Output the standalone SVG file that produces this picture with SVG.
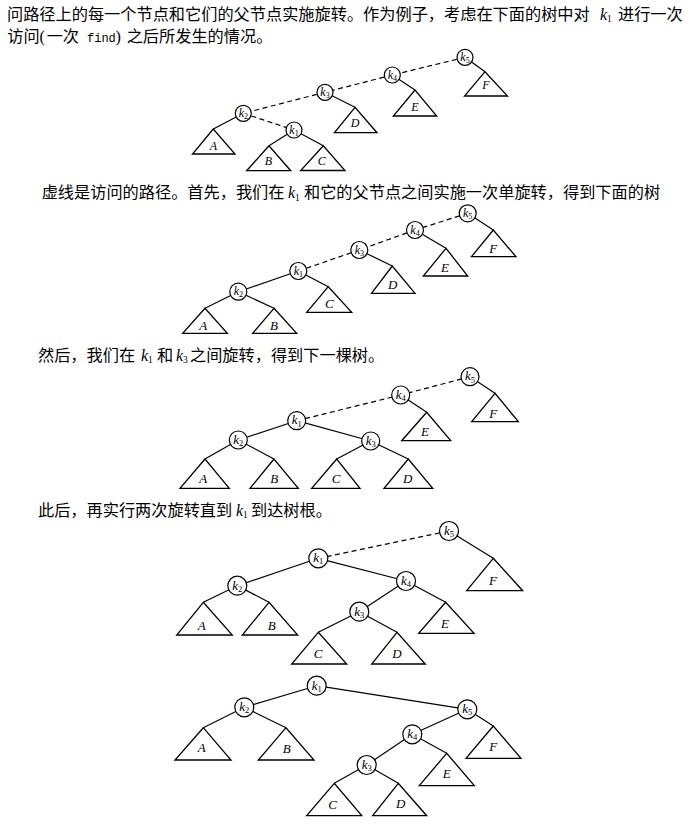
<svg xmlns="http://www.w3.org/2000/svg" width="699" height="826" viewBox="0 0 699 826">
<style>
.cn{font-family:"Liberation Serif","Noto Sans CJK SC",serif;font-size:16.2px;fill:#000}
.mo{font-family:"Liberation Mono",monospace;font-size:12px;fill:#000}
.kt{font-family:"Liberation Serif",serif;font-style:italic;font-size:16px;fill:#000}
.kt .s{font-size:9.5px;font-style:normal}
.e line{stroke:#000;stroke-width:1.2;fill:none}
.e .d{stroke-dasharray:5 3.5}
.n circle{fill:#fff;stroke:#000;stroke-width:1.2}
.n text{font-family:"Liberation Serif",serif;font-style:italic;font-size:13px;text-anchor:middle;fill:#000}
.n .s{font-size:8.5px;font-style:normal}
.sm text{font-size:12px}
.sm .s{font-size:8px}
.t polygon{fill:#fff;stroke:#000;stroke-width:1.3;stroke-linejoin:miter}
.t text{font-family:"Liberation Serif",serif;font-style:italic;font-size:13px;text-anchor:middle;fill:#000}
.ts text{font-size:12px}
</style>

<g id="text">
<text class="cn" x="7" y="19.5">问路径上的每一个节点和它们的父节点实施旋转。作为例子，考虑在下面的树中对</text>
<text class="kt" x="600" y="19.5">k<tspan class="s" dy="2.5">1</tspan></text>
<text class="cn" x="618" y="19.5">进行一次</text>
<text class="cn" x="7.3" y="41.5">访问</text>
<text class="cn" x="39.5" y="41.5">(</text>
<text class="cn" x="46.7" y="41.5">一次</text>
<text class="mo" x="87" y="41.5">find</text>
<text class="cn" x="115.5" y="41.5">)</text>
<text class="cn" x="126.7" y="41.5">之后所发生的情况。</text>

<text class="cn" x="41.7" y="198">虚线是访问的路径。首先，我们在</text>
<text class="kt" x="288" y="198">k<tspan class="s" dy="2.5">1</tspan></text>
<text class="cn" x="304" y="198">和它的父节点之间实施一次单旋转，得到下面的树</text>

<text class="cn" x="38" y="360.5">然后，我们在</text>
<text class="kt" x="141" y="360.5">k<tspan class="s" dy="2.5">1</tspan></text>
<text class="cn" x="157" y="360.5">和</text>
<text class="kt" x="176" y="360.5">k<tspan class="s" dy="2.5">3</tspan></text>
<text class="cn" x="190" y="360.5">之间旋转，得到下一棵树。</text>

<text class="cn" x="38" y="515.5">此后，再实行两次旋转直到</text>
<text class="kt" x="236" y="515.5">k<tspan class="s" dy="2.5">1</tspan></text>
<text class="cn" x="251" y="515.5">到达树根。</text>
</g>

<g id="connectors" class="e">
<!-- tree 1 -->
<line class="d" x1="465" y1="57.3" x2="392.3" y2="75"/>
<line class="d" x1="392.3" y1="75" x2="325" y2="92.3"/>
<line class="d" x1="325" y1="92.3" x2="243.3" y2="113.3"/>
<line class="d" x1="243.3" y1="113.3" x2="294" y2="130"/>
<line x1="465" y1="57.3" x2="485" y2="71.7"/>
<line x1="392.3" y1="75" x2="415" y2="90"/>
<line x1="325" y1="92.3" x2="355" y2="107.3"/>
<line x1="243.3" y1="113.3" x2="213.3" y2="129"/>
<line x1="294" y1="130" x2="269" y2="145.7"/>
<line x1="294" y1="130" x2="323.3" y2="145.7"/>
<!-- tree 2 -->
<line class="d" x1="467.7" y1="213.3" x2="415" y2="230"/>
<line class="d" x1="415" y1="230" x2="359.3" y2="250"/>
<line class="d" x1="359.3" y1="250" x2="298.3" y2="271"/>
<line x1="298.3" y1="271" x2="238.3" y2="291.7"/>
<line x1="238.3" y1="291.7" x2="205" y2="308.3"/>
<line x1="238.3" y1="291.7" x2="274" y2="308.3"/>
<line x1="298.3" y1="271" x2="328.3" y2="286.7"/>
<line x1="359.3" y1="250" x2="392.3" y2="266"/>
<line x1="415" y1="230" x2="446" y2="248.3"/>
<line x1="467.7" y1="213.3" x2="493.3" y2="230"/>
<!-- tree 3 -->
<line class="d" x1="470" y1="376.7" x2="400.7" y2="395"/>
<line class="d" x1="400.7" y1="395" x2="296.7" y2="420.7"/>
<line x1="296.7" y1="420.7" x2="238.3" y2="440"/>
<line x1="296.7" y1="420.7" x2="370.7" y2="441"/>
<line x1="238.3" y1="440" x2="205" y2="459"/>
<line x1="238.3" y1="440" x2="274" y2="459"/>
<line x1="370.7" y1="441" x2="336.7" y2="459"/>
<line x1="370.7" y1="441" x2="408.3" y2="459"/>
<line x1="400.7" y1="395" x2="426.7" y2="412.3"/>
<line x1="470" y1="376.7" x2="495" y2="393.3"/>
<!-- tree 4 -->
<line class="d" x1="318.3" y1="558.3" x2="449" y2="531"/>
<line x1="318.3" y1="558.3" x2="237.3" y2="585.7"/>
<line x1="318.3" y1="558.3" x2="406" y2="581"/>
<line x1="406" y1="581" x2="359.3" y2="611.7"/>
<line x1="406" y1="581" x2="445.7" y2="602.3"/>
<line x1="359.3" y1="611.7" x2="318.3" y2="632.3"/>
<line x1="359.3" y1="611.7" x2="397" y2="632.3"/>
<line x1="237.3" y1="585.7" x2="203.3" y2="602.3"/>
<line x1="237.3" y1="585.7" x2="269" y2="602.3"/>
<line x1="449" y1="531" x2="493.3" y2="558.3"/>
<!-- tree 5 -->
<line x1="316.7" y1="685.7" x2="244.3" y2="707.3"/>
<line x1="316.7" y1="685.7" x2="467.3" y2="709.3"/>
<line x1="467.3" y1="709.3" x2="412.3" y2="734.3"/>
<line x1="467.3" y1="709.3" x2="493.3" y2="726"/>
<line x1="412.3" y1="734.3" x2="366.7" y2="765"/>
<line x1="412.3" y1="734.3" x2="446.7" y2="753.3"/>
<line x1="366.7" y1="765" x2="334.3" y2="783.3"/>
<line x1="366.7" y1="765" x2="398.3" y2="783.3"/>
<line x1="244.3" y1="707.3" x2="203.3" y2="727.7"/>
<line x1="244.3" y1="707.3" x2="286" y2="727.7"/>
</g>

<!-- tree 1 nodes -->
<g id="t1-k5" class="n sm"><circle cx="465" cy="57.3" r="8"/><text x="465" y="60.8">k<tspan class="s" dy="2">5</tspan></text></g>
<g id="t1-k4" class="n sm"><circle cx="392.3" cy="75" r="8"/><text x="392.3" y="78.5">k<tspan class="s" dy="2">4</tspan></text></g>
<g id="t1-k3" class="n sm"><circle cx="325" cy="92.3" r="8"/><text x="325" y="95.8">k<tspan class="s" dy="2">3</tspan></text></g>
<g id="t1-k2" class="n sm"><circle cx="243.3" cy="113.3" r="8"/><text x="243.3" y="116.8">k<tspan class="s" dy="2">2</tspan></text></g>
<g id="t1-k1" class="n sm"><circle cx="294" cy="130" r="8"/><text x="294" y="133.5">k<tspan class="s" dy="2">1</tspan></text></g>
<g id="t1-F" class="t ts"><polygon points="485,71.7 464.5,96 507.5,96"/><text x="486" y="89">F</text></g>
<g id="t1-E" class="t ts"><polygon points="415,90 393.3,116 436.7,116"/><text x="415" y="110.7">E</text></g>
<g id="t1-D" class="t ts"><polygon points="355,107.3 334.5,132.7 377,132.7"/><text x="355" y="126.7">D</text></g>
<g id="t1-A" class="t ts"><polygon points="213.3,129 192.5,154 235,154"/><text x="213.3" y="150">A</text></g>
<g id="t1-B" class="t ts"><polygon points="269,145.7 246.7,170.7 290.7,170.7"/><text x="268.3" y="164.7">B</text></g>
<g id="t1-C" class="t ts"><polygon points="323.3,145.7 300.7,170.5 345,170.5"/><text x="321.7" y="164.7">C</text></g>

<!-- tree 2 nodes -->
<g id="t2-k5" class="n sm"><circle cx="467.7" cy="213.3" r="8.5"/><text x="467.7" y="216.8">k<tspan class="s" dy="2">5</tspan></text></g>
<g id="t2-k4" class="n sm"><circle cx="415" cy="230" r="8.5"/><text x="415" y="233.5">k<tspan class="s" dy="2">4</tspan></text></g>
<g id="t2-k3" class="n sm"><circle cx="359.3" cy="250" r="8.5"/><text x="359.3" y="253.5">k<tspan class="s" dy="2">3</tspan></text></g>
<g id="t2-k1" class="n sm"><circle cx="298.3" cy="271" r="8.5"/><text x="298.3" y="274.5">k<tspan class="s" dy="2">1</tspan></text></g>
<g id="t2-k2" class="n sm"><circle cx="238.3" cy="291.7" r="8.5"/><text x="238.3" y="295.2">k<tspan class="s" dy="2">2</tspan></text></g>
<g id="t2-F" class="t"><polygon points="493.3,230 471.5,256.7 516,256.7"/><text x="493.3" y="252.8">F</text></g>
<g id="t2-E" class="t"><polygon points="446,248.3 423.3,276 467.7,276"/><text x="445" y="272.2">E</text></g>
<g id="t2-D" class="t"><polygon points="392.3,266 371.5,293.3 415,293.3"/><text x="392.7" y="288.8">D</text></g>
<g id="t2-C" class="t"><polygon points="328.3,286.7 306.7,312.3 351.7,312.3"/><text x="329.3" y="307.8">C</text></g>
<g id="t2-A" class="t"><polygon points="205,308.3 182.7,333.3 227.3,333.3"/><text x="203.3" y="329.5">A</text></g>
<g id="t2-B" class="t"><polygon points="274,308.3 252.7,333.3 296.7,333.3"/><text x="274" y="329.5">B</text></g>

<!-- tree 3 nodes -->
<g id="t3-k5" class="n"><circle cx="470" cy="376.7" r="9"/><text x="470" y="380.4">k<tspan class="s" dy="2.2">5</tspan></text></g>
<g id="t3-k4" class="n"><circle cx="400.7" cy="395" r="9"/><text x="400.7" y="398.7">k<tspan class="s" dy="2.2">4</tspan></text></g>
<g id="t3-k1" class="n"><circle cx="296.7" cy="420.7" r="9"/><text x="296.7" y="424.4">k<tspan class="s" dy="2.2">1</tspan></text></g>
<g id="t3-k2" class="n"><circle cx="238.3" cy="440" r="9"/><text x="238.3" y="443.7">k<tspan class="s" dy="2.2">2</tspan></text></g>
<g id="t3-k3" class="n"><circle cx="370.7" cy="441" r="9"/><text x="370.7" y="444.7">k<tspan class="s" dy="2.2">3</tspan></text></g>
<g id="t3-F" class="t"><polygon points="495,393.3 471.7,421.7 518.3,421.7"/><text x="493.3" y="417.8">F</text></g>
<g id="t3-E" class="t"><polygon points="426.7,412.3 401.7,440.7 450.7,440.7"/><text x="425" y="436.2">E</text></g>
<g id="t3-A" class="t"><polygon points="205,459 180,488.3 229.3,488.3"/><text x="203.3" y="482.8">A</text></g>
<g id="t3-B" class="t"><polygon points="274,459 250,488.3 298.3,488.3"/><text x="274.3" y="482.8">B</text></g>
<g id="t3-C" class="t"><polygon points="336.7,459 311.7,488.3 360,488.3"/><text x="336" y="482.8">C</text></g>
<g id="t3-D" class="t"><polygon points="408.3,459 384,488.3 432.7,488.3"/><text x="407.7" y="482.8">D</text></g>

<!-- tree 4 nodes -->
<g id="t4-k5" class="n"><circle cx="449" cy="531" r="9.5"/><text x="449" y="534.8">k<tspan class="s" dy="2.3">5</tspan></text></g>
<g id="t4-k1" class="n"><circle cx="318.3" cy="558.3" r="9.5"/><text x="318.3" y="562.1">k<tspan class="s" dy="2.3">1</tspan></text></g>
<g id="t4-k2" class="n"><circle cx="237.3" cy="585.7" r="9.5"/><text x="237.3" y="589.5">k<tspan class="s" dy="2.3">2</tspan></text></g>
<g id="t4-k4" class="n"><circle cx="406" cy="581" r="9.5"/><text x="406" y="584.8">k<tspan class="s" dy="2.3">4</tspan></text></g>
<g id="t4-k3" class="n"><circle cx="359.3" cy="611.7" r="9.5"/><text x="359.3" y="615.5">k<tspan class="s" dy="2.3">3</tspan></text></g>
<g id="t4-F" class="t"><polygon points="493.3,558.3 466.7,590.7 522.7,590.7"/><text x="493" y="584.5">F</text></g>
<g id="t4-A" class="t"><polygon points="203.3,602.3 176.7,635 232.3,635"/><text x="201.7" y="629.5">A</text></g>
<g id="t4-B" class="t"><polygon points="269,602.3 242.3,635 297.7,635"/><text x="271.7" y="629.5">B</text></g>
<g id="t4-E" class="t"><polygon points="445.7,602.3 418.7,633.3 474,633.3"/><text x="445" y="627.5">E</text></g>
<g id="t4-C" class="t"><polygon points="318.3,632.3 291.7,664 346.7,664"/><text x="318" y="657.5">C</text></g>
<g id="t4-D" class="t"><polygon points="397,632.3 371.7,664 425.3,664"/><text x="397" y="657.5">D</text></g>

<!-- tree 5 nodes -->
<g id="t5-k1" class="n"><circle cx="316.7" cy="685.7" r="9.5"/><text x="316.7" y="689.5">k<tspan class="s" dy="2.3">1</tspan></text></g>
<g id="t5-k2" class="n"><circle cx="244.3" cy="707.3" r="9.5"/><text x="244.3" y="711.1">k<tspan class="s" dy="2.3">2</tspan></text></g>
<g id="t5-k5" class="n"><circle cx="467.3" cy="709.3" r="9.5"/><text x="467.3" y="713.1">k<tspan class="s" dy="2.3">5</tspan></text></g>
<g id="t5-k4" class="n"><circle cx="412.3" cy="734.3" r="9.5"/><text x="412.3" y="738.1">k<tspan class="s" dy="2.3">4</tspan></text></g>
<g id="t5-k3" class="n"><circle cx="366.7" cy="765" r="9.5"/><text x="366.7" y="768.8">k<tspan class="s" dy="2.3">3</tspan></text></g>
<g id="t5-A" class="t"><polygon points="203.3,727.7 175,760 231,760"/><text x="201.7" y="752.2">A</text></g>
<g id="t5-B" class="t"><polygon points="286,727.7 258.3,760 314,760"/><text x="286.7" y="752.5">B</text></g>
<g id="t5-F" class="t"><polygon points="493.3,726 466,758.3 521,758.3"/><text x="493.3" y="750.5">F</text></g>
<g id="t5-E" class="t"><polygon points="446.7,753.3 419.3,785.7 474.3,785.7"/><text x="446.7" y="777.8">E</text></g>
<g id="t5-C" class="t"><polygon points="334.3,783.3 306.7,815.7 361.7,815.7"/><text x="332.7" y="808.8">C</text></g>
<g id="t5-D" class="t"><polygon points="398.3,783.3 372.7,815.7 426.7,815.7"/><text x="400.7" y="807.8">D</text></g>
</svg>
